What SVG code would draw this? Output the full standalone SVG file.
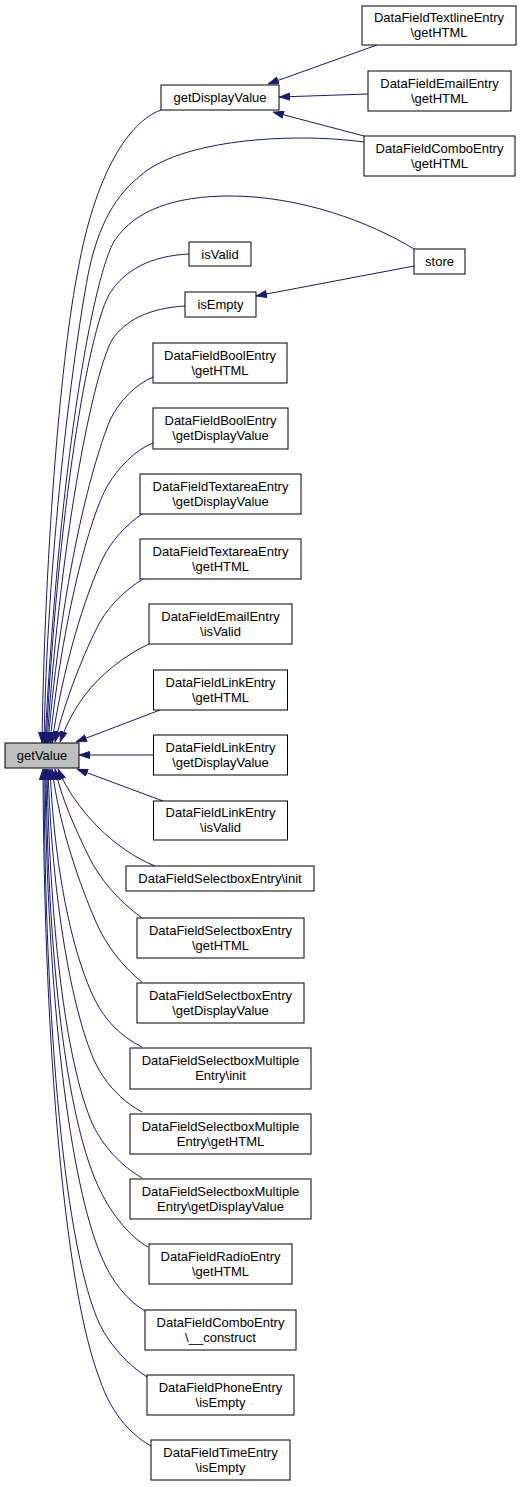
<svg xmlns="http://www.w3.org/2000/svg" width="523" height="1487" viewBox="0 0 523 1487">
<style>
.n rect{fill:#ffffff;stroke:#000000;stroke-width:1}
.n.h rect{fill:#bfbfbf}
.n text{font-family:"Liberation Sans",Arial,sans-serif;font-size:13px;fill:#000000;text-anchor:middle}
.e path{fill:none;stroke:#191970;stroke-width:1;marker-end:url(#ah)}
</style>
<defs>
<marker id="ah" viewBox="0 0 11 8" refX="11" refY="4" markerWidth="11" markerHeight="8" markerUnits="userSpaceOnUse" orient="auto">
<path d="M0.5,0.5 L10.5,4 L0.5,7.5 z" fill="#191970" stroke="#191970" stroke-width="1"/>
</marker>
</defs>
<rect x="0" y="0" width="523" height="1487" fill="#ffffff"/>
<g id="edges" class="e">
<path d="M161,110 C128,122 95,175 78,270 C62,350 45,540 42,743"/>
<path d="M364,142 C290,132 180,140 140,176 C110,200 96,235 88,275 C72,360 47,560 44,743"/>
<path d="M414,249 C370,222 300,196 230,196 C175,196 135,210 115,240 C95,270 60,450 45,743"/>
<path d="M189,254 C150,256 125,270 110,293 C92,322 60,480 46,743"/>
<path d="M185,306 C150,308 125,320 112,340 C95,370 62,520 47,743"/>
<path d="M153,377 C135,385 120,400 110,420 C90,470 62,580 48,743"/>
<path d="M153,443 C135,450 118,468 108,485 C90,515 62,620 50,743"/>
<path d="M142,514 C126,525 112,540 103,558 C85,595 62,670 52,743"/>
<path d="M143,579 C125,590 110,605 100,622 C85,650 65,700 55,742"/>
<path d="M149,644 C125,655 100,675 85,695 C75,708 66,725 60,742"/>
<path d="M160,710 L76,742"/>
<path d="M153,755 L79,755"/>
<path d="M163,801 L77,769"/>
<path d="M155,866 C115,850 75,810 58,769"/>
<path d="M142,918 C120,902 100,880 88,855 C75,828 62,800 55,769"/>
<path d="M142,982 C122,966 106,945 96,922 C80,885 60,830 52,769"/>
<path d="M142,1047 C120,1036 105,1020 95,1000 C75,960 55,880 50,769"/>
<path d="M142,1112 C120,1100 104,1082 94,1060 C72,1010 52,900 48,769"/>
<path d="M142,1178 C120,1165 103,1146 93,1125 C68,1070 50,940 47,769"/>
<path d="M148,1247 C130,1237 112,1215 100,1190 C70,1130 48,980 46,769"/>
<path d="M145,1311 C128,1301 112,1282 102,1258 C70,1185 47,1000 45,769"/>
<path d="M147,1377 C128,1365 110,1345 100,1325 C65,1250 45,1030 44,769"/>
<path d="M151,1446 C128,1433 110,1410 100,1380 C65,1290 44,1050 43,769"/>
<path d="M377,45 L268,84"/>
<path d="M368,94 L279,97"/>
<path d="M364,136 L273,112"/>
<path d="M414,266 L256,296"/>
</g>
<g id="getValue" class="n h"><rect x="5" y="743" width="74" height="25"/><text x="42" y="759.5">getValue</text></g>
<g id="getDisplayValue" class="n"><rect x="161" y="85" width="118" height="25"/><text x="220" y="101.5">getDisplayValue</text></g>
<g id="textlineGetHTML" class="n"><rect x="362" y="6" width="154" height="39"/><text x="439" y="22">DataFieldTextlineEntry</text><text x="439" y="37">\getHTML</text></g>
<g id="emailGetHTML" class="n"><rect x="368" y="71" width="143" height="40"/><text x="439.5" y="87.5">DataFieldEmailEntry</text><text x="439.5" y="102.5">\getHTML</text></g>
<g id="comboGetHTML" class="n"><rect x="364" y="136" width="151" height="40"/><text x="439.5" y="152.5">DataFieldComboEntry</text><text x="439.5" y="167.5">\getHTML</text></g>
<g id="store" class="n"><rect x="414" y="249" width="51" height="25"/><text x="439.5" y="265.5">store</text></g>
<g id="isValid" class="n"><rect x="189" y="242" width="62" height="24"/><text x="220" y="258.5">isValid</text></g>
<g id="isEmpty" class="n"><rect x="185" y="292" width="71" height="25"/><text x="220.5" y="308.5">isEmpty</text></g>
<g id="boolGetHTML" class="n"><rect x="153" y="343" width="134" height="40"/><text x="220" y="359.5">DataFieldBoolEntry</text><text x="220" y="374.5">\getHTML</text></g>
<g id="boolGetDisplayValue" class="n"><rect x="153" y="408" width="135" height="41"/><text x="220.5" y="425">DataFieldBoolEntry</text><text x="220.5" y="440">\getDisplayValue</text></g>
<g id="textareaGetDisplayValue" class="n"><rect x="140" y="474" width="161" height="40"/><text x="220.5" y="490.5">DataFieldTextareaEntry</text><text x="220.5" y="505.5">\getDisplayValue</text></g>
<g id="textareaGetHTML" class="n"><rect x="140" y="539" width="161" height="40"/><text x="220.5" y="555.5">DataFieldTextareaEntry</text><text x="220.5" y="570.5">\getHTML</text></g>
<g id="emailIsValid" class="n"><rect x="149" y="604" width="143" height="40"/><text x="220.5" y="620.5">DataFieldEmailEntry</text><text x="220.5" y="635.5">\isValid</text></g>
<g id="linkGetHTML" class="n"><rect x="153.5" y="670" width="134" height="40"/><text x="220.5" y="686.5">DataFieldLinkEntry</text><text x="220.5" y="701.5">\getHTML</text></g>
<g id="linkGetDisplayValue" class="n"><rect x="153.5" y="735" width="134" height="40"/><text x="220.5" y="751.5">DataFieldLinkEntry</text><text x="220.5" y="766.5">\getDisplayValue</text></g>
<g id="linkIsValid" class="n"><rect x="153.5" y="801" width="134" height="39"/><text x="220.5" y="817">DataFieldLinkEntry</text><text x="220.5" y="832">\isValid</text></g>
<g id="selectboxInit" class="n"><rect x="126" y="866" width="188" height="25"/><text x="220" y="882.5">DataFieldSelectboxEntry\init</text></g>
<g id="selectboxGetHTML" class="n"><rect x="137" y="918" width="167" height="40"/><text x="220.5" y="934.5">DataFieldSelectboxEntry</text><text x="220.5" y="949.5">\getHTML</text></g>
<g id="selectboxGetDisplayValue" class="n"><rect x="137" y="983" width="167" height="40"/><text x="220.5" y="999.5">DataFieldSelectboxEntry</text><text x="220.5" y="1014.5">\getDisplayValue</text></g>
<g id="selectboxMultipleInit" class="n"><rect x="130" y="1048" width="181" height="41"/><text x="220.5" y="1065">DataFieldSelectboxMultiple</text><text x="220.5" y="1080">Entry\init</text></g>
<g id="selectboxMultipleGetHTML" class="n"><rect x="130" y="1114" width="181" height="40"/><text x="220.5" y="1130.5">DataFieldSelectboxMultiple</text><text x="220.5" y="1145.5">Entry\getHTML</text></g>
<g id="selectboxMultipleGetDisplayValue" class="n"><rect x="130" y="1179" width="181" height="40"/><text x="220.5" y="1195.5">DataFieldSelectboxMultiple</text><text x="220.5" y="1210.5">Entry\getDisplayValue</text></g>
<g id="radioGetHTML" class="n"><rect x="149" y="1244" width="143" height="40"/><text x="220.5" y="1260.5">DataFieldRadioEntry</text><text x="220.5" y="1275.5">\getHTML</text></g>
<g id="comboConstruct" class="n"><rect x="145" y="1310" width="151" height="40"/><text x="220.5" y="1326.5">DataFieldComboEntry</text><text x="220.5" y="1341.5">\__construct</text></g>
<g id="phoneIsEmpty" class="n"><rect x="147" y="1375" width="147" height="40"/><text x="220.5" y="1391.5">DataFieldPhoneEntry</text><text x="220.5" y="1406.5">\isEmpty</text></g>
<g id="timeIsEmpty" class="n"><rect x="151" y="1440" width="139" height="40"/><text x="220.5" y="1456.5">DataFieldTimeEntry</text><text x="220.5" y="1471.5">\isEmpty</text></g>
</svg>
